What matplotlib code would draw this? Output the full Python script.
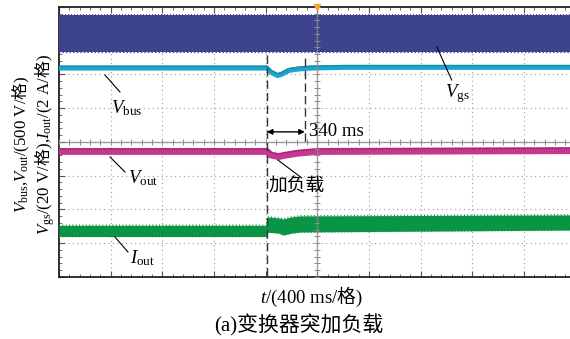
import numpy as np
import matplotlib
matplotlib.use("Agg")
import matplotlib.pyplot as plt

# oscilloscope traces, x in ms (400 ms/div), y in divisions (-4..4)
t_vgs = [0, 4000]
vgs_hi = [3.76, 3.76]
vgs_lo = [2.67, 2.67]

t_vbus = [0, 1610, 1640, 1690, 1720, 1780, 1850, 1950, 2200, 4000]
vbus = [2.19, 2.19, 2.07, 1.97, 2.00, 2.12, 2.16, 2.19, 2.21, 2.21]

t_vout = [0, 1610, 1640, 1700, 1760, 1850, 2000, 4000]
vout = [-0.28, -0.28, -0.385, -0.43, -0.385, -0.33, -0.28, -0.255]

t_iout = [0, 1608, 1612, 1700, 1735, 1800, 1870, 4000]
iout_hi = [-2.47, -2.47, -2.22, -2.25, -2.28, -2.22, -2.19, -2.16]
iout_lo = [-2.80, -2.80, -2.67, -2.70, -2.756, -2.70, -2.667, -2.607]

t_load = 1609      # load step instant
t_settle = 1903    # end of recovery
settle_text = "340 ms"

plt.rcParams['mathtext.fontset'] = 'custom'
plt.rcParams['mathtext.rm'] = 'Liberation Serif'
plt.rcParams['mathtext.it'] = 'Liberation Serif:italic'
plt.rcParams['mathtext.sf'] = 'Noto Sans CJK SC'
plt.rcParams['font.family'] = ['Liberation Serif', 'Noto Sans CJK SC']

fig = plt.figure(figsize=(5.7, 3.39), dpi=100)
ax = fig.add_axes([0.1035, 0.1829, 0.9065, 0.7965])
ax.set_xlim(0, 4000)
ax.set_ylim(-4, 4)

# scope graticule
ax.set_xticks(np.arange(0, 4001, 400))
ax.set_yticks(np.arange(-4, 4.01, 1))
ax.set_xticks(np.arange(0, 4001, 80), minor=True)
ax.set_yticks(np.arange(-4, 4.01, 0.2), minor=True)
ax.tick_params(which='both', direction='in', labelleft=False, labelbottom=False,
               top=True, right=True, color='#555555')
ax.tick_params(which='major', length=4, width=0.8)
ax.tick_params(which='minor', length=2.5, width=0.6)
ax.grid(True, which='major', linestyle=(0, (1, 3)), color='#9a9a9a', lw=0.8)
for s in ax.spines.values():
    s.set_linewidth(1.3)
    s.set_color('#222222')

# traces
ax.fill_between(t_vgs, vgs_lo, vgs_hi, color='#3d438c', lw=0, zorder=3)
ax.plot(t_vgs, vgs_hi, color='#3d438c', lw=1.2, ls=(0, (0.6, 1.2)), zorder=3)
ax.plot(t_vgs, vgs_lo, color='#3d438c', lw=1.6, ls=(0, (0.6, 1.0)), zorder=3)

ax.plot(t_vbus, vbus, color='#1ba5d2', lw=3.6, solid_capstyle='butt', zorder=3)
ax.plot(t_vbus, np.array(vbus) + 0.055, color='#1a8c96', lw=1.0, zorder=3)

ax.plot(t_vout, vout, color='#c4388f', lw=5, solid_capstyle='butt', zorder=3)
ax.plot(t_vout, np.array(vout) + 0.07, color='#9a2a78', lw=0.8, zorder=3)

ax.fill_between(t_iout, iout_lo, iout_hi, color='#0a9446', lw=0, zorder=3)
ax.plot(t_iout, iout_hi, color='#0a9446', lw=1.2, ls=(0, (0.6, 1.4)), zorder=3)
ax.plot(t_iout, iout_lo, color='#0a9446', lw=1.2, ls=(0, (0.6, 1.4)), zorder=3)

# centre cross with small ticks
ax.axhline(0, color='#8a8a8a', lw=1.0, alpha=0.8, zorder=4)
ax.axvline(2000, color='#8a8a8a', lw=1.0, alpha=0.8, zorder=4)
ax.plot(np.arange(0, 4001, 80), np.zeros(51), ls='none', marker='|', ms=4,
        mew=0.7, color='#8a8a8a', zorder=4)
ax.plot(np.full(41, 2000), np.arange(-4, 4.01, 0.2), ls='none', marker='_', ms=4,
        mew=0.7, color='#8a8a8a', zorder=4)
ax.plot([2000], [4], marker='v', ms=5, color='#f2a62a', clip_on=False, zorder=6)

# dashed markers and duration arrow
ax.plot([t_load, t_load], [2.58, -4], color='#333333', lw=1.0, ls=(0, (6, 3)), zorder=5)
ax.plot([t_settle, t_settle], [2.49, -0.09], color='#333333', lw=1.0, ls=(0, (6, 3)), zorder=5)
ax.annotate('', xy=(t_load, 0.30), xytext=(t_settle, 0.30),
            arrowprops=dict(arrowstyle='<|-|>', color='black', lw=1.0,
                            mutation_scale=8, shrinkA=0, shrinkB=0), zorder=6)
ax.text(1935, 0.30, settle_text, fontsize=13.5, va='center', ha='left', zorder=6)

# trace labels with leader lines
fs = 13.5
labels = [
    (r'$V_{\rm bus}$', (526, 1.0), (356, 1.985), (472, 1.481)),
    (r'$V_{\rm gs}$', (3087, 1.45), (2925, 2.815), (3040, 1.837)),
    (r'$V_{\rm out}$', (650, -1.07), (395, -0.444), (511, -0.889)),
    ('加负载', (1841, -1.33), (1694, -0.533), (1880, -1.067)),
    (r'$I_{\rm out}$', (650, -3.44), (433, -2.815), (534, -3.259)),
]
for txt, pos, p0, p1 in labels:
    ax.plot([p0[0], p1[0]], [p0[1], p1[1]], color='black', lw=0.8, zorder=6)
    ax.text(pos[0], pos[1], txt, fontsize=fs, ha='center', va='center', zorder=6)

# axis texts
fig.text(0.036, 0.575, r'$V_{\rm bus}$,$V_{\rm out}$/(500 V/$\mathsf{格}$)',
         rotation=90, ha='center', va='center', fontsize=12.2)
fig.text(0.078, 0.575, r'$V_{\rm gs}$/(20 V/$\mathsf{格}$),$I_{\rm out}$/(2 A/$\mathsf{格}$)',
         rotation=90, ha='center', va='center', fontsize=12.2)
fig.text(0.546, 0.124, r'$t$/(400 ms/$\mathsf{格}$)', ha='center', va='center', fontsize=13.5)
fig.text(0.524, 0.041, '(a)变换器突加负载', ha='center', va='center', fontsize=15)

fig.savefig('out.png', dpi=100)
